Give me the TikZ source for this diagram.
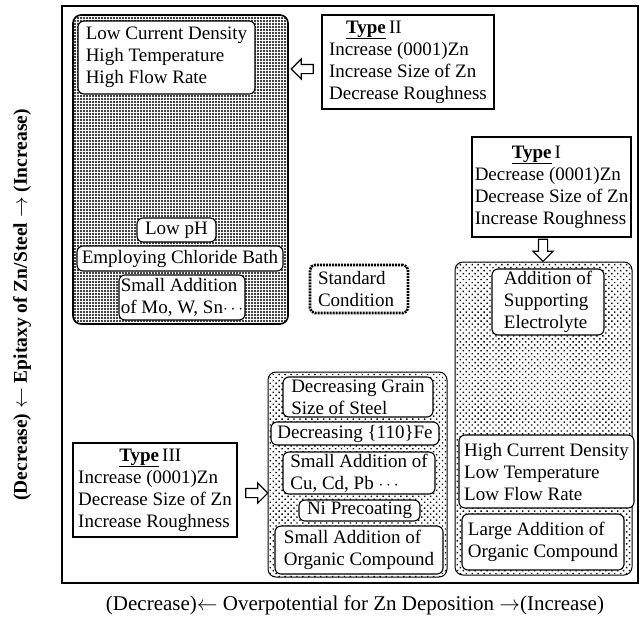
\documentclass[tikz,border=0pt]{standalone}
\usepackage{fontspec}
\setmainfont{Liberation Serif}
\usetikzlibrary{shapes.arrows, patterns.meta}

\begin{document}
\begin{tikzpicture}[
  x=1pt, y=-1pt,
  every node/.style={font=\fontsize{19}{22}\selectfont},
  wh/.style 2 args={minimum width=#1, minimum height=#2},
  zone/.style={draw, rounded corners=8pt, inner sep=0pt},
  densezone/.style={zone, line width=1.6pt, pattern={Dots[distance=3pt, radius=1.15pt]}},
  sparsezone/.style={zone, line width=1pt, pattern={Dots[angle=45, distance=4.2pt, radius=1pt]}},
  cond/.style={draw, fill=white, rounded corners=6pt, line width=1.1pt, align=left, inner sep=0pt},
  typebox/.style={draw, fill=white, line width=1.1pt, align=left, inner sep=0pt},
  stdbox/.style={draw, fill=white, rounded corners=5pt, line width=2.6pt, dash pattern=on 2pt off 1pt, align=left, inner sep=0pt},
  hollow/.style={single arrow, draw, fill=white, line width=1.1pt, minimum height=22pt, inner sep=4pt, single arrow head extend=5.5pt},
]
\useasboundingbox (0,0) rectangle (644,624);
\draw[line width=1.3pt] (62,6) rectangle (638,583);

\node[densezone, wh={215pt}{309pt}] (zoneA) at (180.5,169.5) {};
\node[cond, wh={177pt}{73pt}] (lcd) at (166.5,57.5) {Low Current Density\\High Temperature\\High Flow Rate};
\node[cond, wh={79pt}{24pt}] (ph) at (176.5,230) {Low pH};
\node[cond, wh={206pt}{25pt}] (chl) at (180,258.5) {Employing Chloride Bath};
\node[cond, wh={126pt}{45pt}] (mo) at (182,297.5) {Small Addition\\of Mo, W, Sn$\cdots$};

\node[typebox, wh={172pt}{94pt}] (t2) at (408,62) {\hspace*{17pt}\underline{\textbf{Type}}\,II\\Increase (0001)Zn\\Increase Size of Zn\\Decrease Roughness};
\node[hollow, shape border rotate=180] (ar2) at (304.5,69) {};

\node[typebox, wh={159pt}{100pt}] (t1) at (551.5,187) {\hspace*{37pt}\underline{\textbf{Type}}\,I\\Decrease (0001)Zn\\Decrease Size of Zn\\Increase Roughness};
\node[hollow, shape border rotate=270] (ar1) at (543,248) {};

\node[stdbox, wh={98pt}{48pt}, text width=82pt] (std) at (359,289) {Standard\\Condition};

\node[sparsezone, wh={177pt}{313pt}] (zoneB) at (543.5,418.5) {};
\node[cond, wh={112pt}{66pt}] (sup) at (548,302) {Addition of\\Supporting\\Electrolyte};
\node[cond, wh={175pt}{73pt}] (hcd) at (546.5,471.5) {High Current Density\\Low Temperature\\Low Flow Rate};
\node[cond, wh={162pt}{56pt}] (lorg) at (543,542) {Large Addition of\\Organic Compound};

\node[sparsezone, wh={179pt}{205pt}] (zoneC) at (357.5,474.5) {};
\node[cond, wh={150pt}{40pt}] (gr) at (358,397) {Decreasing Grain\\Size of Steel};
\node[cond, wh={168pt}{23pt}] (fe) at (355,433.5) {Decreasing \{110\}Fe};
\node[cond, wh={152pt}{42pt}] (cu) at (359,473) {Small Addition of\\Cu, Cd, Pb $\cdots$};
\node[cond, wh={121pt}{21pt}] (ni) at (359.5,510.5) {Ni Precoating};
\node[cond, wh={168pt}{48pt}] (sorg) at (359,550) {Small Addition of\\Organic Compound};

\node[typebox, wh={164pt}{94pt}] (t3) at (155,490) {\hspace*{41pt}\underline{\textbf{Type}}\,III\\Increase (0001)Zn\\Decrease Size of Zn\\Increase Roughness};
\node[hollow] (ar3) at (254.5,493) {};

\node[rotate=90, font=\fontsize{19.5}{24}\selectfont\bfseries] (ylab) at (22,305) {(Decrease) $\leftarrow$ Epitaxy of Zn/Steel $\rightarrow$ (Increase)};
\node[font=\fontsize{21}{24}\selectfont] (xlab) at (355,605) {(Decrease)$\leftarrow$ Overpotential for Zn Deposition $\rightarrow$(Increase)};
\end{tikzpicture}
\end{document}
